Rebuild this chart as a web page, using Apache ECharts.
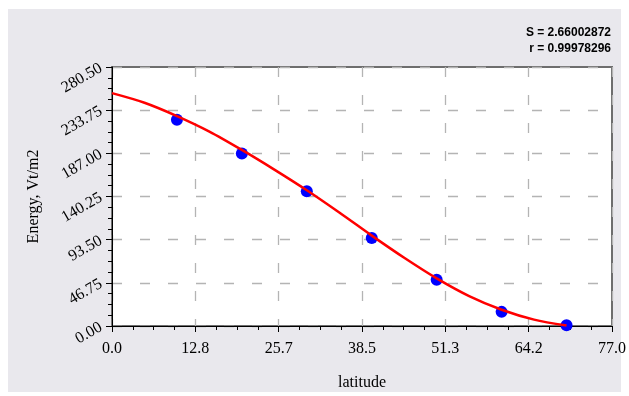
<!DOCTYPE html>
<html>
<head>
<meta charset="utf-8">
<script src="https://cdn.jsdelivr.net/npm/echarts@6/dist/echarts.min.js"></script>
<style>
  html, body { margin: 0; padding: 0; background: #ffffff; }
  #panel { position: absolute; left: 8px; top: 9px; width: 613px; height: 383px; background: #e9e8ed; }
  #chart { position: absolute; left: 0; top: 0; width: 629px; height: 396px; }
</style>
</head>
<body>
<div id="panel"></div>
<div id="chart"></div>
<script>
// measured points
const latitude = [10, 20, 30, 40, 50, 60, 70]
const energy = [223.4, 186.8, 145.9, 95.3, 50.1, 15.3, 0.9]

// fitted curve
const fitLat = [0, 5, 10, 15, 20, 25, 30, 35, 40, 45, 50, 55, 60, 65, 70]
const fitEnergy = [252.2, 241.8, 227.4, 210.6, 190.7, 169.4, 147.0, 122.9, 97.9, 73.9, 51.6, 32.4, 17.6, 6.9, 0.5]

const xTickLabels = ['0.0', '12.8', '25.7', '38.5', '51.3', '64.2', '77.0']
const yTickLabels = ['0.00', '46.75', '93.50', '140.25', '187.00', '233.75', '280.50']

const statLines = ['S = 2.66002872', 'r = 0.99978296']

const X_MAX = 77
const Y_MAX = 280.5
const xStep = X_MAX / (xTickLabels.length - 1)
const yStep = Y_MAX / (yTickLabels.length - 1)

const serif = 'Liberation Serif'
const gridDash = { type: [10, 18], color: '#b4b4b4', width: 1.3 }

const chart = echarts.init(document.getElementById('chart'))

chart.setOption({
  animation: false,
  backgroundColor: 'transparent',
  grid: {
    left: 112, top: 67, width: 503, height: 260,
    show: true, backgroundColor: '#ffffff',
    borderColor: '#6e6e6e', borderWidth: 2,
  },
  graphic: statLines.map((t, i) => ({
    type: 'text',
    right: 18,
    top: 27 + i * 16,
    style: {
      text: t,
      fill: '#000',
      font: 'bold 12px "Liberation Sans Narrow", "Liberation Sans", sans-serif',
      textAlign: 'right',
    },
  })),
  xAxis: {
    type: 'value',
    min: 0,
    max: X_MAX,
    interval: xStep,
    name: 'latitude',
    nameLocation: 'middle',
    nameGap: 49,
    nameTextStyle: { fontFamily: serif, fontSize: 16, color: '#000' },
    axisLine: { onZero: false, lineStyle: { color: '#000', width: 1 } },
    axisTick: { show: true, inside: false, length: 6, lineStyle: { color: '#000' } },
    minorTick: { show: true, splitNumber: 4, length: 4, lineStyle: { color: '#000' } },
    axisLabel: {
      fontFamily: serif, fontSize: 16, color: '#000', margin: 15,
      formatter: (v) => xTickLabels[Math.round(v / xStep)],
    },
    splitLine: { show: true, lineStyle: gridDash },
  },
  yAxis: {
    type: 'value',
    min: 0,
    max: Y_MAX,
    interval: yStep,
    name: 'Energy, Vt/m2',
    nameLocation: 'middle',
    nameGap: 70,
    nameTextStyle: { fontFamily: serif, fontSize: 16, color: '#000' },
    axisLine: { show: true, onZero: false, lineStyle: { color: '#000', width: 1 } },
    axisTick: { show: true, inside: false, length: 6, lineStyle: { color: '#000' } },
    minorTick: { show: true, splitNumber: 4, length: 4, lineStyle: { color: '#000' } },
    axisLabel: {
      fontFamily: serif, fontSize: 16, color: '#000', margin: 11, rotate: 30,
      formatter: (v) => yTickLabels[Math.round(v / yStep)],
    },
    splitLine: { show: true, lineStyle: gridDash },
  },
  series: [
    {
      name: 'points',
      type: 'scatter',
      data: latitude.map((x, i) => [x, energy[i]]),
      symbol: 'circle',
      symbolSize: 12,
      itemStyle: { color: '#0000ff', opacity: 1 },
      z: 2,
    },
    {
      name: 'fit',
      type: 'line',
      data: fitLat.map((x, i) => [x, fitEnergy[i]]),
      smooth: 0.3,
      showSymbol: false,
      lineStyle: { color: '#ff0000', width: 2.5 },
      z: 3,
    },
  ],
})
</script>
</body>
</html>
